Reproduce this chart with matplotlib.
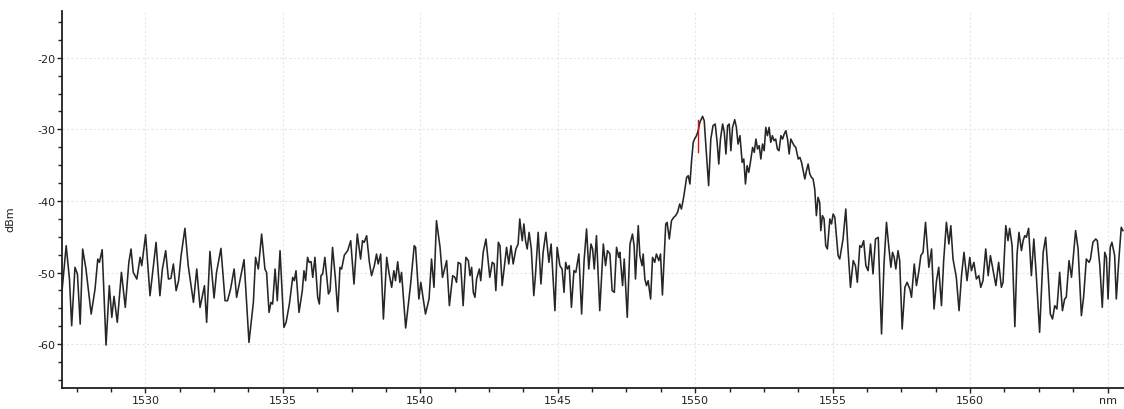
import numpy as np
import matplotlib
matplotlib.use('Agg')
import matplotlib.pyplot as plt
from matplotlib.ticker import MultipleLocator

plt.rcParams['font.family'] = 'DejaVu Sans'
plt.rcParams['axes.unicode_minus'] = False

# Spectrum trace: wavelength (nm) and power level (dBm)
wavelength_nm = [
    1526.97, 1527.12, 1527.24, 1527.32, 1527.44, 1527.53, 1527.63, 1527.72, 1527.84, 1528.03,
    1528.17, 1528.27, 1528.33, 1528.43, 1528.57, 1528.69, 1528.78, 1528.86, 1528.98, 1529.13,
    1529.27, 1529.40, 1529.48, 1529.56, 1529.69, 1529.81, 1529.87, 1530.01, 1530.17, 1530.39,
    1530.53, 1530.62, 1530.74, 1530.84, 1530.93, 1531.02, 1531.12, 1531.21, 1531.30, 1531.44,
    1531.56, 1531.75, 1531.87, 1531.99, 1532.15, 1532.23, 1532.35, 1532.50, 1532.59, 1532.75,
    1532.90, 1532.99, 1533.10, 1533.23, 1533.32, 1533.44, 1533.59, 1533.77,
    1533.93, 1534.01, 1534.11, 1534.23, 1534.35, 1534.41, 1534.50, 1534.57, 1534.63, 1534.72,
    1534.80, 1534.90, 1535.04, 1535.12, 1535.24, 1535.36, 1535.42, 1535.48, 1535.59, 1535.71,
    1535.77, 1535.83, 1535.90, 1535.96, 1536.03, 1536.09, 1536.17, 1536.27, 1536.33, 1536.39,
    1536.45, 1536.53, 1536.66, 1536.72, 1536.81, 1536.91, 1537.00, 1537.08, 1537.14, 1537.24,
    1537.36, 1537.47, 1537.59, 1537.71, 1537.83, 1537.90, 1537.96, 1538.05, 1538.15, 1538.23,
    1538.33, 1538.41, 1538.47, 1538.56, 1538.66, 1538.78, 1538.86, 1538.96, 1539.04, 1539.10,
    1539.18, 1539.26, 1539.32, 1539.47, 1539.65, 1539.78, 1539.83, 1539.95, 1540.02, 1540.19,
    1540.32, 1540.41, 1540.50, 1540.59,
    1540.72, 1540.81, 1540.96, 1541.06, 1541.18, 1541.26, 1541.32, 1541.38, 1541.47, 1541.56,
    1541.66, 1541.75, 1541.81, 1541.87, 1541.93, 1541.99, 1542.05, 1542.15, 1542.20, 1542.29,
    1542.39, 1542.47, 1542.53, 1542.62, 1542.69, 1542.75, 1542.84, 1542.90, 1542.98, 1543.14,
    1543.22, 1543.30, 1543.38, 1543.48, 1543.56, 1543.62, 1543.71, 1543.77, 1543.83, 1543.89,
    1543.96, 1544.04, 1544.13, 1544.19, 1544.29, 1544.39, 1544.47, 1544.57, 1544.68, 1544.76,
    1544.90, 1544.98, 1545.08, 1545.16, 1545.23, 1545.29, 1545.35, 1545.42, 1545.50, 1545.59,
    1545.66, 1545.77, 1545.87, 1545.96, 1546.05, 1546.13, 1546.21, 1546.27, 1546.33, 1546.41,
    1546.53, 1546.66, 1546.74, 1546.81, 1546.90, 1546.98, 1547.06, 1547.14, 1547.22, 1547.26,
    1547.36, 1547.42, 1547.53,
    1547.63, 1547.72, 1547.78, 1547.83, 1547.93, 1547.99, 1548.07, 1548.11, 1548.17, 1548.23,
    1548.29, 1548.38, 1548.45, 1548.53, 1548.59, 1548.68, 1548.74, 1548.81, 1548.93, 1548.98,
    1549.06, 1549.14, 1549.22, 1549.29, 1549.36, 1549.44, 1549.50, 1549.56, 1549.60, 1549.69,
    1549.75, 1549.81, 1549.87, 1549.93, 1549.99, 1550.05, 1550.11, 1550.17, 1550.27, 1550.33,
    1550.39, 1550.49, 1550.57, 1550.65, 1550.73, 1550.80, 1550.86, 1550.92, 1551.00, 1551.06,
    1551.12, 1551.18, 1551.24, 1551.30, 1551.36, 1551.44, 1551.50, 1551.56, 1551.63, 1551.71,
    1551.77, 1551.83, 1551.89, 1551.95, 1552.01, 1552.09, 1552.15, 1552.21, 1552.27, 1552.33,
    1552.39, 1552.45, 1552.51, 1552.57, 1552.63, 1552.69, 1552.75, 1552.81, 1552.87, 1552.93,
    1552.99, 1553.05, 1553.12, 1553.18, 1553.24, 1553.30, 1553.36, 1553.42, 1553.48, 1553.54,
    1553.60, 1553.66, 1553.75, 1553.81, 1553.87, 1553.93, 1553.99, 1554.05, 1554.11, 1554.17,
    1554.23, 1554.29, 1554.35, 1554.41, 1554.47, 1554.53,
    1554.57, 1554.63, 1554.69, 1554.75, 1554.81, 1554.90, 1554.96, 1555.02, 1555.08, 1555.20,
    1555.26, 1555.32, 1555.38, 1555.48, 1555.56, 1555.65, 1555.75, 1555.83, 1555.90, 1555.99,
    1556.05, 1556.13, 1556.21, 1556.29, 1556.38, 1556.47, 1556.56, 1556.66, 1556.78, 1556.87,
    1556.96, 1557.04, 1557.12, 1557.18, 1557.24, 1557.30, 1557.38, 1557.44, 1557.53, 1557.63,
    1557.71, 1557.81, 1557.87, 1557.97, 1558.05, 1558.14, 1558.21, 1558.29, 1558.38, 1558.50,
    1558.60, 1558.69, 1558.78, 1558.86, 1558.96, 1559.04, 1559.14, 1559.23, 1559.30, 1559.38,
    1559.50, 1559.60, 1559.69, 1559.78, 1559.89, 1559.99, 1560.05, 1560.14, 1560.23, 1560.32,
    1560.39, 1560.47, 1560.57, 1560.66, 1560.74, 1560.84, 1560.94, 1561.04, 1561.14, 1561.20,
    1561.30, 1561.38, 1561.44, 1561.53, 1561.63, 1561.71, 1561.78, 1561.87, 1561.93, 1561.99,
    1562.05, 1562.13, 1562.23, 1562.32, 1562.41, 1562.53, 1562.66, 1562.75, 1562.84, 1562.92,
    1563.00, 1563.08, 1563.16, 1563.26, 1563.36, 1563.44, 1563.50, 1563.60, 1563.69, 1563.84,
    1563.93, 1564.05, 1564.13, 1564.23, 1564.33, 1564.38, 1564.47, 1564.57, 1564.63, 1564.72,
    1564.81, 1564.90, 1564.96, 1565.02, 1565.10, 1565.16, 1565.26, 1565.32, 1565.41, 1565.50,
    1565.56,
]

power_dbm = [
    -52.54, -46.25, -50.91, -57.43, -49.28, -50.21, -57.20, -46.72, -49.51, -55.80,
    -52.31, -48.12, -48.58, -46.81, -60.13, -51.84, -56.26, -53.33, -56.96, -49.98,
    -54.87, -48.58, -46.72, -49.98, -50.91, -47.88, -49.05, -44.72, -53.24, -45.79,
    -53.24, -49.51, -46.95, -50.91, -50.82, -48.81, -52.54, -51.14, -47.65, -43.83,
    -49.05, -54.17, -49.51, -54.87, -51.84, -56.96, -47.05, -53.56, -49.98, -46.63,
    -53.94, -53.94, -52.31, -49.51, -53.47, -51.14, -48.21, -59.76,
    -54.17, -47.88, -49.51, -44.63, -49.51, -49.98, -55.57, -54.17, -54.40, -49.51,
    -53.94, -46.95, -57.66, -56.96, -54.40, -50.68, -51.14, -49.75, -55.57, -52.54,
    -49.75, -51.14, -47.88, -48.58, -48.49, -50.68, -47.88, -53.47, -54.40, -50.44,
    -50.21, -47.88, -53.00, -52.54, -46.49, -50.68, -55.47, -49.28, -49.51, -47.56,
    -46.95, -45.56, -51.61, -44.63, -48.12, -45.56, -45.79, -44.86, -48.58, -50.44,
    -49.05, -47.42, -48.81, -47.42, -56.50, -47.88, -49.98, -52.07, -49.75, -51.14,
    -48.49, -51.38, -49.98, -57.75, -51.61, -46.25, -46.49, -53.70, -51.38, -55.80,
    -53.70, -48.12, -52.07, -42.76,
    -46.48, -50.67, -48.34, -54.63, -50.44, -50.67, -51.37, -48.58, -48.81, -54.63,
    -47.88, -48.34, -50.44, -49.27, -52.77, -53.46, -50.90, -49.51, -51.14, -47.18,
    -45.32, -48.34, -50.67, -48.58, -48.81, -52.53, -45.78, -46.25, -51.83, -46.48,
    -48.81, -46.25, -48.81, -46.71, -46.02, -42.52, -45.55, -43.22, -45.55, -46.71,
    -44.39, -46.71, -53.23, -50.44, -44.39, -51.60, -47.18, -44.39, -48.58, -46.02,
    -55.33, -46.48, -49.04, -49.51, -52.77, -48.58, -49.51, -49.04, -54.86, -49.74,
    -49.97, -47.41, -55.79, -48.34, -43.92, -49.51, -46.02, -46.71, -49.51, -44.85,
    -55.33, -46.02, -49.04, -46.95, -47.41, -52.53, -52.77, -46.48, -47.88, -47.18,
    -51.83, -48.11, -56.26,
    -46.02, -44.63, -46.25, -50.91, -43.46, -47.65, -49.05, -47.42, -50.91, -51.84,
    -51.14, -53.70, -47.88, -48.58, -47.42, -48.35, -47.42, -53.14, -43.23, -43.00,
    -45.32, -42.76, -42.30, -42.06, -41.60, -40.43, -41.13, -39.97, -39.04, -36.71,
    -36.48, -37.64, -34.38, -31.82, -31.26, -30.89, -30.19, -29.03, -28.19, -28.80,
    -32.29, -37.87, -31.36, -29.49, -29.26, -31.82, -34.85, -31.36, -29.26, -30.43,
    -33.45, -29.49, -29.26, -32.99, -29.73, -28.66, -29.73, -32.06, -30.89, -34.62,
    -34.15, -37.64, -35.08, -36.01, -34.62, -32.52, -33.22, -31.36, -32.75, -32.29,
    -34.15, -32.06, -32.99, -29.73, -30.89, -29.73, -31.82, -30.89, -31.59, -31.36,
    -32.75, -32.99, -30.89, -31.36, -30.66, -30.19, -31.36, -33.45, -31.36, -31.82,
    -32.29, -32.52, -34.15, -33.92, -34.62, -35.78, -36.94, -35.78, -34.85, -36.24,
    -36.71, -36.94, -38.34, -42.06, -39.50, -40.20,
    -44.15, -42.06, -42.52, -46.25, -46.71, -42.52, -43.22, -41.83, -42.29, -47.64,
    -48.11, -46.71, -45.32, -41.13, -46.71, -52.07, -48.34, -49.04, -51.37, -46.25,
    -46.48, -45.55, -49.04, -49.74, -46.02, -50.20, -45.32, -45.09, -58.58, -48.81,
    -42.99, -46.25, -49.27, -47.18, -47.88, -49.51, -46.95, -48.34, -57.89, -52.07,
    -51.37, -52.30, -53.46, -48.81, -51.83, -49.74, -47.64, -47.18, -42.99, -49.27,
    -46.71, -55.09, -51.14, -49.27, -54.63, -48.34, -42.99, -46.02, -43.46, -48.11,
    -50.67, -55.33, -50.44, -47.18, -51.14, -47.88, -49.74, -48.58, -50.90, -50.44,
    -52.07, -51.14, -46.71, -50.44, -47.64, -49.74, -51.83, -48.58, -52.07, -51.37,
    -43.46, -45.55, -43.83, -46.25, -57.56, -47.41, -44.39, -46.95, -45.55, -44.85,
    -45.08, -43.83, -50.44, -45.32, -50.44, -58.35, -47.18, -45.08, -50.20, -55.79,
    -56.49, -54.63, -55.09, -49.97, -55.33, -53.70, -53.46, -48.34, -50.67, -44.15,
    -46.71, -56.02, -53.46, -48.11, -48.58, -48.11, -45.78, -45.32, -45.55, -49.04,
    -54.86, -47.18, -47.88, -53.70, -46.48, -45.78, -47.64, -53.70, -48.34, -43.69,
    -44.15,
]

# Marker cursor drawn at the peak edge
marker_nm = [1550.10, 1550.10]
marker_dbm = [-28.66, -33.13]

x_ticks = [1530, 1535, 1540, 1545, 1550, 1555, 1560, 1565]
x_tick_labels = ['1530', '1535', '1540', '1545', '1550', '1555', '1560', 'nm']
y_ticks = [-60, -50, -40, -30, -20]

fig = plt.figure(figsize=(11.24, 4.10), dpi=100)
ax = fig.add_axes([0.0552, 0.0512, 0.9448, 0.9195])

ax.plot(wavelength_nm, power_dbm, color='#262626', linewidth=1.15,
        solid_joinstyle='round')
ax.plot(marker_nm, marker_dbm, color='#d01010', linewidth=1.0)

ax.set_xlim(1526.97, 1565.6)
ax.set_ylim(-66.13, -13.48)

ax.set_xticks(x_ticks)
ax.set_xticklabels(x_tick_labels)
ax.set_yticks(y_ticks)
ax.xaxis.set_minor_locator(MultipleLocator(1.25))
ax.yaxis.set_minor_locator(MultipleLocator(2.5))

ax.grid(True, which='major', color='#e6e6e6', linestyle=(0, (2, 2)), linewidth=0.8)
ax.set_axisbelow(True)

for side in ['top', 'right']:
    ax.spines[side].set_visible(False)
for side in ['left', 'bottom']:
    ax.spines[side].set_color('#202020')
    ax.spines[side].set_linewidth(1.3)

ax.tick_params(which='major', direction='out', length=3.5, width=1, color='#202020',
               labelsize=8, labelcolor='#202020', pad=1.5)
ax.tick_params(which='minor', direction='out', length=3, width=1, color='#202020')

ax.set_ylabel('dBm', fontsize=8, color='#202020')
ax.yaxis.set_label_coords(-0.044, 0.45)

fig.savefig('out.png', dpi=100)
